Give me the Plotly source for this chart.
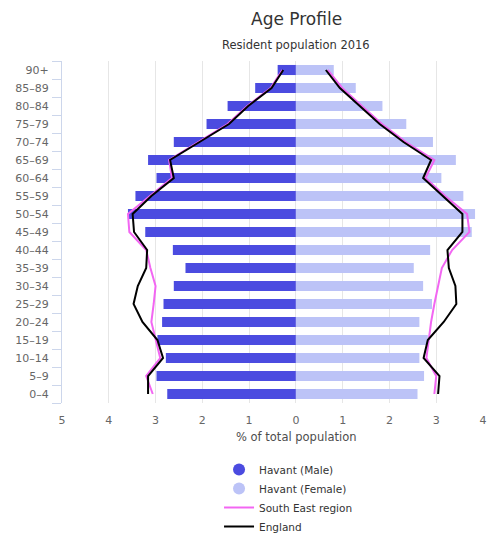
import plotly.graph_objects as go

# Age bands, youngest first (bottom of the pyramid)
age_bands = ["0-4", "5-9", "10-14", "15-19", "20-24", "25-29", "30-34", "35-39",
             "40-44", "45-49", "50-54", "55-59", "60-64", "65-69", "70-74",
             "75-79", "80-84", "85-89", "90+"]
age_labels = [a.replace("-", "–") for a in age_bands]

# % of total population
havant_male = [2.75, 2.98, 2.78, 2.96, 2.86, 2.83, 2.61, 2.36, 2.63, 3.22,
               3.59, 3.43, 2.98, 3.16, 2.61, 1.91, 1.46, 0.87, 0.39]
havant_female = [2.60, 2.74, 2.64, 2.82, 2.64, 2.91, 2.72, 2.52, 2.87, 3.76,
                 3.83, 3.58, 3.11, 3.42, 2.93, 2.36, 1.85, 1.28, 0.81]
south_east_male = [3.06, 3.20, 2.90, 3.00, 3.09, 3.04, 3.00, 3.11, 3.20, 3.56,
                   3.59, 3.12, 2.65, 2.71, 2.08, 1.46, 1.04, 0.54, 0.29]
south_east_female = [2.96, 3.00, 2.79, 2.84, 2.89, 2.96, 3.04, 3.12, 3.34, 3.71,
                     3.66, 3.19, 2.77, 2.96, 2.35, 1.84, 1.41, 0.99, 0.68]
england_male = [3.16, 3.16, 2.84, 2.96, 3.28, 3.47, 3.38, 3.20, 3.18, 3.46,
                3.49, 3.09, 2.61, 2.69, 2.06, 1.43, 1.02, 0.52, 0.27]
england_female = [3.04, 3.07, 2.73, 2.82, 3.16, 3.43, 3.41, 3.27, 3.24, 3.56,
                  3.56, 3.14, 2.72, 2.89, 2.30, 1.79, 1.37, 0.94, 0.64]

x_ticks = [-5, -4, -3, -2, -1, 0, 1, 2, 3, 4]

male_col = "#4b4be0"
female_col = "#bcc3f7"
se_col = "#f266f2"
eng_col = "#000000"

W, H = 496, 534
ML, MR, MT, MB = 62, 13, 61, 131
PW = W - ML - MR
center_x = (296 - ML) / PW   # headings are centred over the zero line

fig = go.Figure()

fig.add_trace(go.Bar(y=age_labels, x=[-v for v in havant_male], orientation="h",
                     marker=dict(color=male_col, line=dict(width=0)),
                     name="Havant (Male)", showlegend=False))
fig.add_trace(go.Bar(y=age_labels, x=havant_female, orientation="h",
                     marker=dict(color=female_col, line=dict(width=0)),
                     name="Havant (Female)", showlegend=False))

# Comparator lines: one trace per side, split with a gap
def mirrored(left, right):
    xs = [-v for v in left] + [None] + list(right)
    ys = age_labels + [None] + age_labels
    return xs, ys

sx, sy = mirrored(south_east_male, south_east_female)
fig.add_trace(go.Scatter(x=sx, y=sy, mode="lines", line=dict(color=se_col, width=2),
                         name="South East region", showlegend=False, connectgaps=False))
ex, ey = mirrored(england_male, england_female)
fig.add_trace(go.Scatter(x=ex, y=ey, mode="lines", line=dict(color=eng_col, width=2),
                         name="England", showlegend=False, connectgaps=False))

# Legend entries (circle symbols for the bar series)
fig.add_trace(go.Scatter(x=[None], y=[None], mode="markers", name="Havant (Male)",
                         marker=dict(color=male_col, size=12, symbol="circle")))
fig.add_trace(go.Scatter(x=[None], y=[None], mode="markers", name="Havant (Female)",
                         marker=dict(color=female_col, size=12, symbol="circle")))
fig.add_trace(go.Scatter(x=[None], y=[None], mode="lines", name="South East region",
                         line=dict(color=se_col, width=2)))
fig.add_trace(go.Scatter(x=[None], y=[None], mode="lines", name="England",
                         line=dict(color=eng_col, width=2)))

fig.update_layout(
    width=W, height=H,
    margin=dict(l=ML, r=MR, t=MT, b=MB, autoexpand=False),
    paper_bgcolor="white", plot_bgcolor="white",
    barmode="overlay", bargap=0.44,
    font=dict(family="DejaVu Sans", color="#666666", size=11),
    xaxis=dict(range=[-5, 4], tickvals=x_ticks, ticktext=[str(abs(v)) for v in x_ticks],
               showgrid=True, gridcolor="#e6e6e6", gridwidth=1, zeroline=False,
               showline=False, ticks="outside", ticklen=7, tickcolor="rgba(0,0,0,0)",
               tickfont=dict(size=11, color="#666666"), automargin=False),
    yaxis=dict(type="category", categoryorder="array", categoryarray=age_labels,
               showline=True, linecolor="#ccd6eb", linewidth=1,
               ticks="outside", tickson="boundaries", ticklen=9, tickcolor="#ccd6eb",
               ticklabelstandoff=10,
               showgrid=False, tickfont=dict(size=11, color="#666666"),
               range=[-0.5, 18.5], automargin=False),
    legend=dict(orientation="v", x=0.373, xanchor="left",
                yref="container", y=1 - 455 / H, yanchor="top",
                font=dict(size=10.5, color="#333333"), itemsizing="trace",
                tracegroupgap=0, bgcolor="rgba(0,0,0,0)"),
    annotations=[
        dict(text="Age Profile", xref="paper", yref="paper", x=center_x,
             y=1 + (MT - 19) / (H - MT - MB), xanchor="center", yanchor="middle",
             showarrow=False, font=dict(size=17, color="#333333")),
        dict(text="Resident population 2016", xref="paper", yref="paper", x=center_x,
             y=1 + (MT - 45) / (H - MT - MB), xanchor="center", yanchor="middle",
             showarrow=False, font=dict(size=11.5, color="#333333")),
        dict(text="% of total population", xref="paper", yref="paper", x=center_x,
             y=-(437 - (H - MB)) / (H - MT - MB), xanchor="center", yanchor="middle",
             showarrow=False, font=dict(size=11.5, color="#4d4d4d")),
    ],
)

fig.write_html("out.html")
